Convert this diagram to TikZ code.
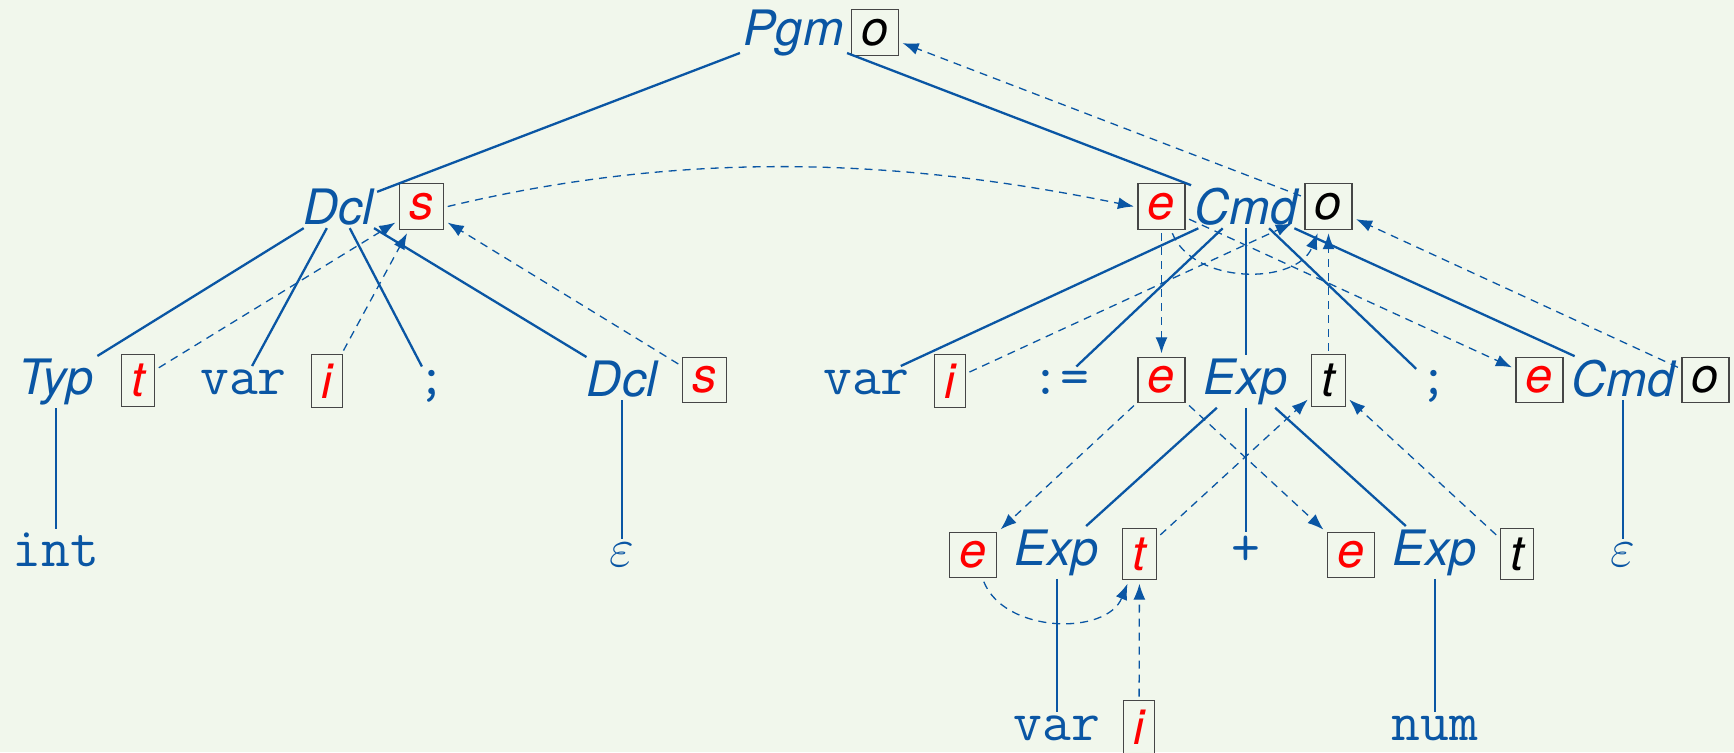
\RequirePackage{fix-cm}
\documentclass[tikz,border=0pt]{standalone}
\usepackage{fontspec}
\newfontfamily\hv{TeX Gyre Heros}
\usetikzlibrary{arrows.meta}
\definecolor{bg}{RGB}{241,247,236}
\definecolor{tblue}{RGB}{10,86,164}
\definecolor{tred}{RGB}{255,0,0}
\definecolor{bgray}{RGB}{70,70,70}
\tikzset{
  nt/.style={text=tblue, font=\hv\itshape\fontsize{24.4pt}{28pt}\selectfont, inner sep=1.5pt, anchor=base},
  tm/.style={text=tblue, font=\ttfamily\fontsize{28pt}{31pt}\selectfont, inner sep=1.5pt, anchor=base},
  epsn/.style={text=tblue, font=\fontsize{27pt}{30pt}\selectfont, inner sep=1.5pt, anchor=base},
  abox/.style={draw=bgray, line width=0.6pt, fill=bg, font=\hv\itshape\fontsize{24.4pt}{28pt}\selectfont, inner xsep=5pt, inner ysep=4.6pt, outer sep=2pt},
  ared/.style={abox, text=tred},
  ablk/.style={abox, text=black},
  tree/.style={draw=tblue, line width=1.15pt},
  dep/.style={draw=tblue, line width=0.65pt, dash pattern=on 4pt off 3pt, -{Latex[length=8pt,width=6pt]}},
}
\begin{document}
\begin{tikzpicture}[x=0.5pt,y=-0.5pt]
\fill[bg] (0,0) rectangle (1734,752);
\useasboundingbox (0,0) rectangle (1734,752);
% row 1
\node[nt] (pgm) at (793.5,45) {Pgm};
\node[ablk] (pgmo) at (875,32.5) {o};
% row 2
\node[nt] (dcl) at (338.5,224) {Dcl};
\node[ared] (dcls) at (421.5,206.5) {s};
\node[ared] (cmde) at (1161.5,206.5) {e};
\node[nt] (cmd) at (1246,224) {Cmd};
\node[ablk] (cmdo) at (1328.5,206.5) {o};
% row 3
\node[nt] (typ) at (56,394) {Typ};
\node[ared] (typt) at (138,380.5) {t};
\node[tm] (vara) at (243.5,394) {var};
\node[ared] (varai) at (327,381) {i};
\node[tm] (semia) at (432,394) {;};
\node[nt] (dclb) at (622,396) {Dcl};
\node[ared] (dclbs) at (704.5,380) {s};
\node[tm] (varb) at (866.5,394) {var};
\node[ared] (varbi) at (950,381) {i};
\node[tm] (asg) at (1060,394) {:=};
\node[ared] (expe) at (1161.5,380) {e};
\node[nt] (exp) at (1246,394) {Exp};
\node[ablk] (expt) at (1328.5,380.5) {t};
\node[tm] (semib) at (1434,394) {;};
\node[ared] (cmdbe) at (1539.5,380) {e};
\node[nt] (cmdb) at (1623,396) {Cmd};
\node[ablk] (cmdbo) at (1705.5,380) {o};
% row 4
\node[tm] (int) at (56,566) {int};
\node[epsn] (epsa) at (622,566) {$\varepsilon$};
\node[ared] (expae) at (973,555) {e};
\node[nt] (expa) at (1057,565) {Exp};
\node[ared] (expat) at (1139.5,554) {t};
\node[tm] (plus) at (1246,565) {+};
\node[ared] (expbe) at (1351,555) {e};
\node[nt] (expb) at (1435,565) {Exp};
\node[ablk] (expbt) at (1517,554) {t};
\node[epsn] (epsb) at (1623,566) {$\varepsilon$};
% row 5
\node[tm] (varc) at (1057,740) {var};
\node[ared] (varci) at (1139,727) {i};
\node[tm] (num) at (1435,740) {num};
% tree edges
\draw[tree] (pgm) -- (dcl);
\draw[tree] (pgm) -- (cmd);
\draw[tree] (dcl) -- (typ);
\draw[tree] (dcl) -- (vara);
\draw[tree] (dcl) -- (semia);
\draw[tree] (dcl) -- (dclb);
\draw[tree] (typ) -- (int);
\draw[tree] (dclb) -- (epsa);
\draw[tree] (cmd) -- (varb);
\draw[tree] (cmd) -- (asg);
\draw[tree] (cmd) -- (exp);
\draw[tree] (cmd) -- (semib);
\draw[tree] (cmd) -- (cmdb);
\draw[tree] (cmdb) -- (epsb);
\draw[tree] (exp) -- (expa);
\draw[tree] (exp) -- (plus);
\draw[tree] (exp) -- (expb);
\draw[tree] (expa) -- (varc);
\draw[tree] (expb) -- (num);
% dependency edges
\draw[dep] (typt) -- (dcls);
\draw[dep] (varai) -- (dcls);
\draw[dep] (dclbs) -- (dcls);
\draw[dep] (dcls.east) .. controls +(250,-60) and +(-220,-45) .. (cmde.west);
\draw[dep] (cmdo) -- (pgmo);
\draw[dep] (cmde) -- (expe);
\draw[dep] (cmde) -- (cmdbe);
\draw[dep] (cmde.-68) .. controls +(21,52) and +(-21,52) .. (cmdo.-112);
\draw[dep, shorten >=5pt] (varbi) -- (cmdo);
\draw[dep] (expt) -- (cmdo);
\draw[dep] (cmdbo) -- (cmdo);
\draw[dep] (expe) -- (expae);
\draw[dep] (expe) -- (expbe);
\draw[dep] (expat) -- (expt);
\draw[dep] (expbt) -- (expt);
\draw[dep] (expae.-68) .. controls +(21,52) and +(-21,52) .. (expat.-112);
\draw[dep] (varci) -- (expat);
\end{tikzpicture}
\end{document}
